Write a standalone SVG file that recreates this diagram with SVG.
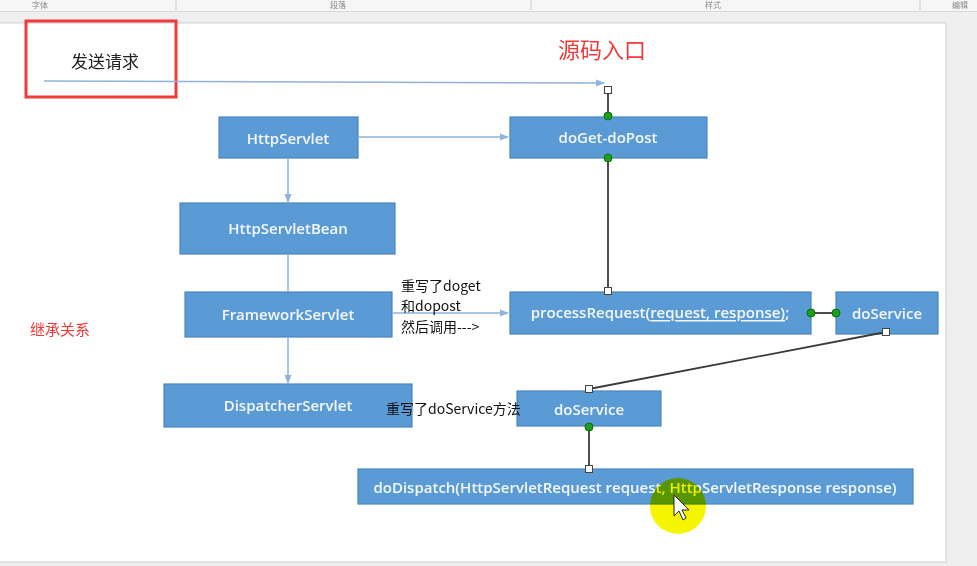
<svg xmlns="http://www.w3.org/2000/svg" width="977" height="566" viewBox="0 0 977 566">
<defs>
<style>
.node rect{fill:#5b9bd5;stroke:#4a86c0;stroke-width:1.2}
.node text{fill:#f4f8fc;font-family:"Open Sans","Noto Sans",sans-serif;font-weight:600;font-size:15px;text-anchor:middle;dominant-baseline:central}
.blue{stroke:#8fb3dc;stroke-width:1.5;fill:none}
.dark{stroke:#3a3a3a;stroke-width:1.8;fill:none}
.gdot{fill:#1aa01a;stroke:#0d6e0d;stroke-width:1}
.wsq{fill:#ffffff;stroke:#444;stroke-width:1}
.lbl{font-family:"Noto Sans CJK SC","Noto Sans",sans-serif;font-size:14px;fill:#111}
.red{font-family:"Noto Sans CJK SC",sans-serif;fill:#f03a3a}
.rib{font-family:"Noto Sans CJK SC",sans-serif;font-size:8px;fill:#888}
</style>
<marker id="ab" viewBox="0 0 10 10" refX="9" refY="5" markerWidth="6" markerHeight="6" orient="auto-start-reverse"><path d="M0,1 L10,5 L0,9 z" fill="#8fb3dc"/></marker>
</defs>
<rect x="0" y="0" width="977" height="566" fill="#efefef"/>
<rect x="0" y="0" width="977" height="11" fill="#f6f6f6"/>
<line x1="0" y1="11.5" x2="977" y2="11.5" stroke="#d8d8d8"/>
<text class="rib" x="32" y="8">字体</text>
<text class="rib" x="330" y="8">段落</text>
<text class="rib" x="705" y="8">样式</text>
<text class="rib" x="952" y="8">编辑</text>
<line x1="176" y1="0" x2="176" y2="10" stroke="#ccc"/>
<line x1="531" y1="0" x2="531" y2="10" stroke="#ccc"/>
<line x1="920" y1="0" x2="920" y2="10" stroke="#ccc"/>
<rect x="-1" y="23" width="947" height="539" fill="#ffffff" stroke="#d0d0d0"/>

<g id="send-request">
<rect x="26" y="21" width="150" height="76" fill="none" stroke="#f03a3a" stroke-width="3"/>
<text x="105" y="60" font-family="Noto Sans CJK SC,sans-serif" font-size="17" fill="#222" text-anchor="middle" dominant-baseline="central">发送请求</text>
</g>
<g id="source-entry"><text class="red" x="602" y="48" font-size="22" text-anchor="middle" dominant-baseline="central">源码入口</text></g>
<g id="inherit-label"><text class="red" x="60" y="328" font-size="15" text-anchor="middle" dominant-baseline="central">继承关系</text></g>

<g id="HttpServlet" class="node"><rect x="219" y="117" width="139" height="41"/><text x="288" y="138">HttpServlet</text></g>
<g id="doGet-doPost" class="node"><rect x="510" y="117" width="197" height="41"/><text x="608" y="137">doGet-doPost</text></g>
<g id="HttpServletBean" class="node"><rect x="180" y="203" width="215" height="51"/><text x="288" y="228">HttpServletBean</text></g>
<g id="FrameworkServlet" class="node"><rect x="185" y="292" width="207" height="45"/><text x="288" y="314">FrameworkServlet</text></g>
<g id="DispatcherServlet" class="node"><rect x="164" y="384" width="248" height="43"/><text x="288" y="405">DispatcherServlet</text></g>
<g id="processRequest" class="node"><rect x="510" y="292" width="301" height="42"/><text x="660" y="312">processRequest(<tspan text-decoration="underline">request, response)</tspan>;</text></g>
<g id="doService-1" class="node"><rect x="836" y="292" width="102" height="42"/><text x="887" y="313">doService</text></g>
<g id="doService-2" class="node"><rect x="517" y="391" width="144" height="35"/><text x="589" y="409">doService</text></g>
<g id="doDispatch" class="node"><rect x="358" y="469" width="555" height="35"/><text x="635" y="487">doDispatch(HttpServletRequest request, HttpServletResponse response)</text></g>

<g id="connectors">
<line class="blue" x1="44" y1="81" x2="604" y2="83" marker-end="url(#ab)"/>
<line class="dark" x1="608" y1="91" x2="608" y2="116"/>
<line class="blue" x1="358" y1="137" x2="508" y2="137" marker-end="url(#ab)"/>
<line class="blue" x1="288" y1="158" x2="288" y2="202" marker-end="url(#ab)"/>
<line class="blue" x1="288" y1="254" x2="288" y2="292"/>
<line class="blue" x1="288" y1="337" x2="288" y2="383" marker-end="url(#ab)"/>
<line class="blue" x1="392" y1="313" x2="508" y2="313" marker-end="url(#ab)"/>
<line class="dark" x1="608" y1="158" x2="608" y2="290"/>
<line class="dark" x1="811" y1="313" x2="836" y2="313"/>
<line class="dark" x1="886" y1="332" x2="589" y2="389"/>
<line class="dark" x1="589" y1="427" x2="589" y2="468"/>
<rect class="wsq" x="604.5" y="86.5" width="7" height="7"/>
<circle class="gdot" cx="608" cy="116" r="4"/>
<circle class="gdot" cx="608" cy="158" r="4"/>
<rect class="wsq" x="604.5" y="287.5" width="7" height="7"/>
<circle class="gdot" cx="811" cy="313" r="4"/>
<circle class="gdot" cx="836" cy="313" r="4"/>
<rect class="wsq" x="882.5" y="328.5" width="7" height="7"/>
<rect class="wsq" x="585.5" y="385.5" width="7" height="7"/>
<circle class="gdot" cx="589" cy="427" r="4"/>
<rect class="wsq" x="585.5" y="465.5" width="7" height="7"/>
</g>

<g id="label-override">
<text class="lbl" x="401" y="291">重写了doget</text>
<text class="lbl" x="401" y="311">和dopost</text>
<text class="lbl" x="401" y="332">然后调用---&gt;</text>
</g>
<g id="label-doService"><text class="lbl" x="386" y="414">重写了doService方法</text></g>

<g id="cursor-highlight">
<ellipse cx="678" cy="506" rx="28" ry="28" fill="#f5f500" style="mix-blend-mode:multiply"/>
<path d="M674,495 L674,516 L679,511 L683,520 L686,518 L682,510 L689,510 Z" fill="#fff" stroke="#222" stroke-width="1"/>
</g>
</svg>
